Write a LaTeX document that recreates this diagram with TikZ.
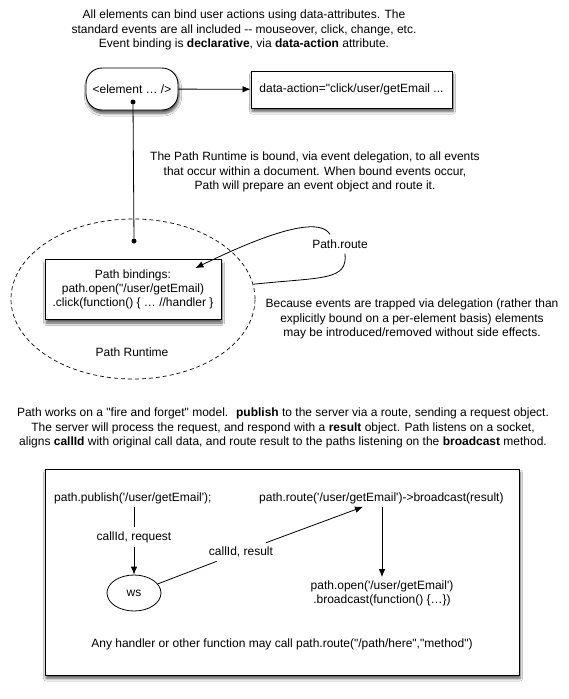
\documentclass[tikz,border=0pt]{standalone}
\usepackage{fontspec}
\setmainfont{Liberation Sans}[Ligatures=TeXOff]
\usetikzlibrary{arrows.meta,shapes.geometric,shadows.blur}

\begin{document}
\begin{tikzpicture}[x=1pt,y=-1pt,
  every node/.style={font=\fontsize{12}{14.2}\selectfont, inner sep=0pt},
  txt/.style={align=center},
  lbl/.style={inner sep=4pt},
  shade/.style={blur shadow={shadow xshift=1pt, shadow yshift=-3.5pt,
      shadow blur radius=2.5pt, shadow blur steps=6, shadow opacity=65}},
  box/.style={draw, line width=0.9pt, fill=white, shade, align=center},
  dotmark/.style={circle, fill=black, minimum size=5pt},
  conn/.style={line width=0.8pt},
  arr/.style={conn, -{Latex[length=8pt,width=6.5pt]}},
]
% canvas
\fill[white] (0,0) rectangle (568,699);
\useasboundingbox (0,0) rectangle (568,699);

% ---- event binding ----
\node[txt] (intro) at (244,30) {All elements can bind user actions using data-attributes. The\\
  standard events are all included -- mouseover, click, change, etc.\\
  Event binding is \textbf{declarative}, via \textbf{data-action} attribute.};

\node[box, rounded corners=16pt, minimum width=92pt, minimum height=42pt] (el) at (132,89) {<element … />};
\node[box, minimum width=201pt, minimum height=37pt] (da) at (351.5,89.5) {data-action="click/user/getEmail ...};
\draw[arr] (el) -- (da);

\node[dotmark] (d1) at (133,102) {};

\node[txt] (deleg) at (315,172) {The Path Runtime is bound, via event delegation, to all events\\
  that occur within a document. When bound events occur,\\
  Path will prepare an event object and route it.};

% ---- runtime ----
\node[draw, ellipse, dashed, dash pattern=on 4pt off 3pt, line width=0.7pt,
      minimum width=244pt, minimum height=160pt] (rt) at (133,299) {};
\node (rtname) at (132,352) {Path Runtime};
\node[dotmark] (d2) at (134,241) {};
\draw[conn] (d1) -- (d2);

\node[box, minimum width=176pt, minimum height=60pt] (pb) at (133,289.5)
  {Path bindings:\\path.open("/user/getEmail)\\.click(function() \{ … //handler \}};

\node[inner sep=5pt] (route) at (340,244) {Path.route};
\draw[conn] (rt.7) .. controls (322,277) and (348,281) .. ([xshift=5pt]route.south);
\draw[arr] ([xshift=-10pt]route.north) .. controls (322,221) and (290,222) .. ([xshift=-26pt,yshift=-9pt]pb.north east);

\node[txt] (trap) at (412,319) {Because events are trapped via delegation (rather than\\
  explicitly bound on a per-element basis) elements\\
  may be introduced/removed without side effects.};

% ---- fire and forget ----
\node[txt] (model) at (283,428) {Path works on a "fire and forget" model.~ \textbf{publish} to the server via a route, sending a request object.\\
  The server will process the request, and respond with a \textbf{result} object. Path listens on a socket,\\
  aligns \textbf{callId} with original call data, and route result to the paths listening on the \textbf{broadcast} method.};

\node[box, minimum width=474pt, minimum height=206pt] (frame) at (282,572) {};

\node[anchor=west, inner sep=3pt] (pub) at (51,498) {path.publish('/user/getEmail');};
\node[anchor=west, inner sep=3pt] (rtl) at (256,498) {path.route('/user/getEmail')->broadcast(result)};

\node[lbl] (creq) at (134,537) {callId, request};
\node[draw, ellipse, line width=0.8pt, minimum width=54pt, minimum height=36pt] (ws) at (134,593) {ws};
\draw[conn] (creq |- pub.south) -- (creq.north);
\draw[arr] (creq) -- (ws);

\node[lbl] (cres) at (241,552) {callId, result};
\node[txt, inner sep=3pt] (po) at (382,593) {path.open('/user/getEmail')\\.broadcast(function() \{…\})};
\draw[conn] (ws) -- (cres);
\draw[arr] (cres) -- ([xshift=107pt]rtl.south west);
\draw[arr] (po.north |- rtl.south) -- (po.north);

\node (any) at (282,644) {Any handler or other function may call path.route("/path/here","method")};
\end{tikzpicture}
\end{document}
